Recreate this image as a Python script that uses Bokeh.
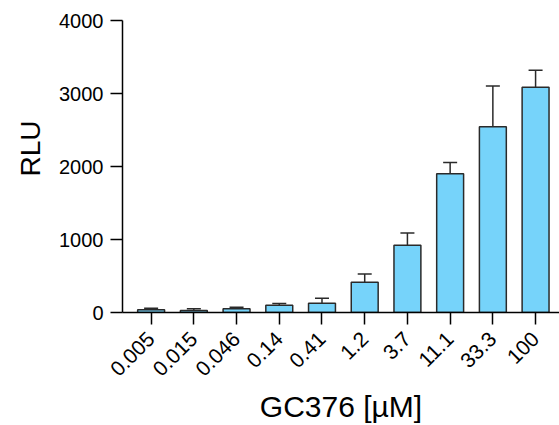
from bokeh.plotting import figure
from bokeh.models import ColumnDataSource, Range1d, FixedTicker, Whisker, TeeHead, Title
from bokeh.embed import file_html
from bokeh.resources import INLINE

concentrations = ["0.005", "0.015", "0.046", "0.14", "0.41", "1.2", "3.7", "11.1", "33.3", "100"]
rlu_mean = [37, 27, 50, 100, 127, 413, 921, 1900, 2544, 3084]
rlu_err = [21, 23, 23, 22, 68, 113, 167, 154, 558, 236]
y_ticks = [0, 1000, 2000, 3000, 4000]

idx = list(range(len(concentrations)))
tops = [m + e for m, e in zip(rlu_mean, rlu_err)]
src = ColumnDataSource(dict(x=idx, mean=rlu_mean, top=tops))

FONT = "Liberation Sans"

p = figure(width=559, height=425, output_backend="svg", toolbar_location=None,
           x_range=Range1d(-0.67, len(concentrations) - 0.44), y_range=Range1d(0, 4000),
           min_border_left=122, min_border_top=20, min_border_right=0, min_border_bottom=111)
p.outline_line_color = None
p.xgrid.visible = False
p.ygrid.visible = False

p.vbar(x="x", top="mean", bottom=0, width=0.63, source=src,
       fill_color="#76D3FA", line_color="#2a2a2a", line_width=1.5)

w = Whisker(base="x", lower="mean", upper="top", source=src,
            line_color="#2a2a2a", line_width=1.5,
            upper_head=TeeHead(size=14, line_color="#2a2a2a", line_width=1.5),
            lower_head=None)
p.add_layout(w)

for ax in (p.xaxis[0], p.yaxis[0]):
    ax.axis_line_color = "black"
    ax.axis_line_width = 1.5
    ax.major_tick_line_color = "black"
    ax.major_tick_line_width = 1.5
    ax.major_tick_in = 0
    ax.major_tick_out = 12
    ax.minor_tick_line_color = None
    ax.major_label_text_font = FONT
    ax.major_label_text_color = "black"
    ax.axis_label_text_font = FONT
    ax.axis_label_text_font_style = "normal"
    ax.axis_label_text_color = "black"

p.yaxis.ticker = FixedTicker(ticks=y_ticks)
p.yaxis.major_label_text_font_size = "20px"
p.yaxis.major_label_standoff = 7

# y-axis title as a side title, placed slightly above the frame centre as in the reference
p.add_layout(Title(text="RLU", align="left", offset=136, standoff=22,
                   text_font=FONT, text_font_size="28px", text_font_style="normal",
                   text_color="black"), "left")

p.xaxis.ticker = FixedTicker(ticks=idx)
p.xaxis.major_label_overrides = {i: c for i, c in zip(idx, concentrations)}
p.xaxis.major_label_orientation = 0.785398
p.xaxis.major_label_text_font_size = "21px"
p.xaxis.major_label_standoff = 11
p.xaxis.axis_label = "GC376 [µM]"
p.xaxis.axis_label_text_font_size = "30px"
p.xaxis.axis_label_standoff = 4

open("out.html", "w").write(file_html(p, INLINE))
